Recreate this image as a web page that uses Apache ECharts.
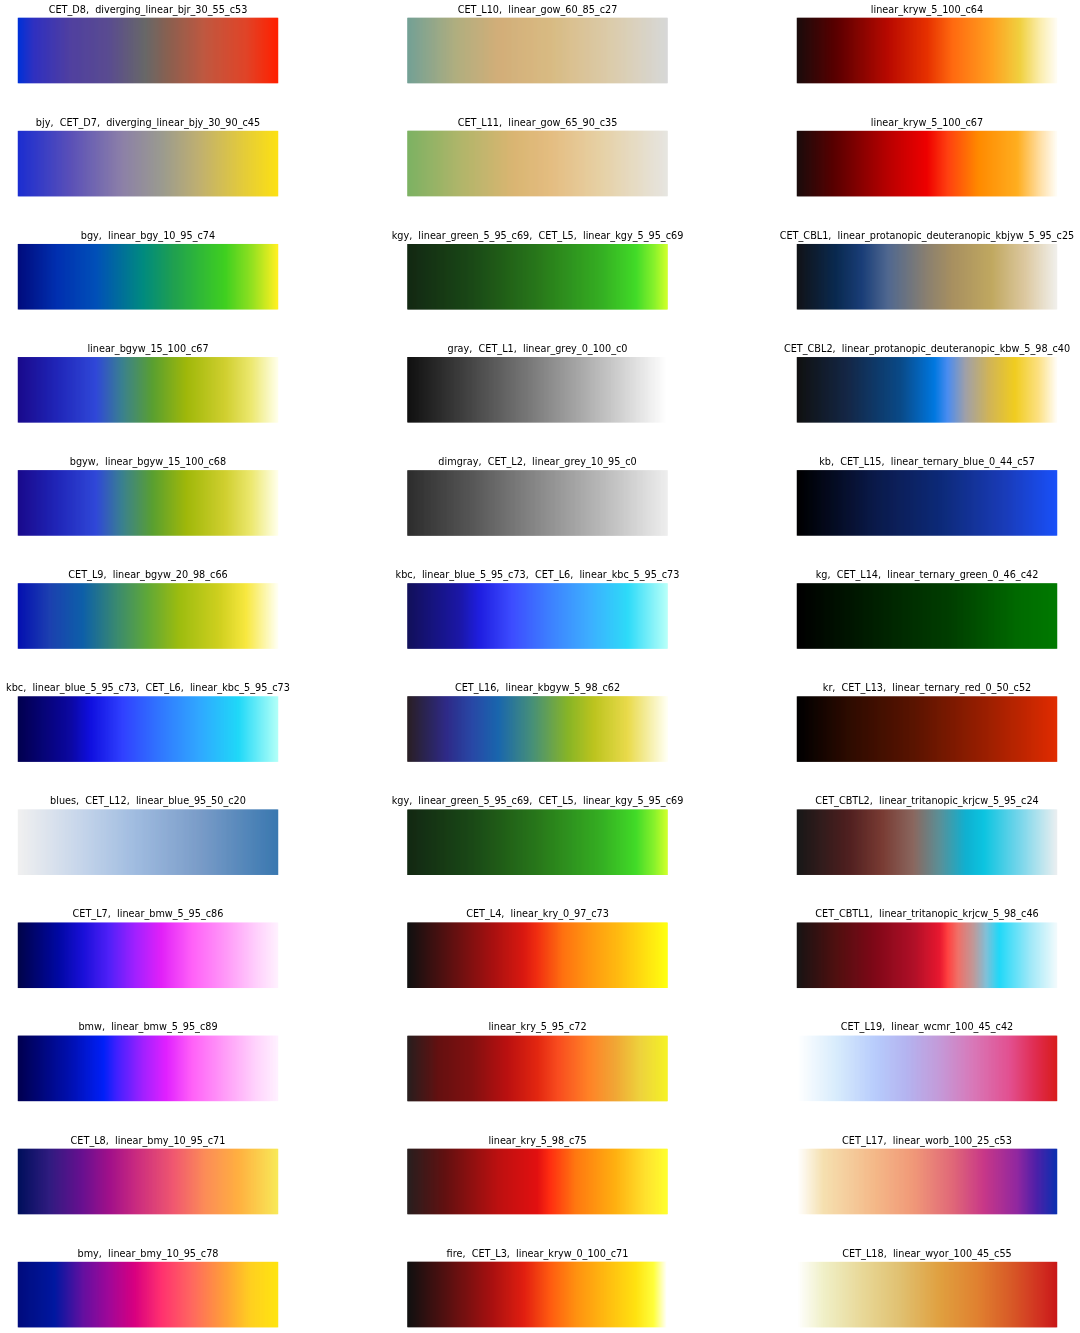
<!DOCTYPE html>
<html>
<head>
<meta charset="utf-8">
<script src="https://cdn.jsdelivr.net/npm/echarts@6/dist/echarts.min.js"></script>
<style>
html,body{margin:0;padding:0;background:#fff;}
#chart{width:1080px;height:1333px;}
</style>
</head>
<body>
<div id="chart"></div>
<script>
// ---- titles (row-major, 3 columns) ----
const titles = [
  "CET_D8,  diverging_linear_bjr_30_55_c53", "CET_L10,  linear_gow_60_85_c27", "linear_kryw_5_100_c64",
  "bjy,  CET_D7,  diverging_linear_bjy_30_90_c45", "CET_L11,  linear_gow_65_90_c35", "linear_kryw_5_100_c67",
  "bgy,  linear_bgy_10_95_c74", "kgy,  linear_green_5_95_c69,  CET_L5,  linear_kgy_5_95_c69", "CET_CBL1,  linear_protanopic_deuteranopic_kbjyw_5_95_c25",
  "linear_bgyw_15_100_c67", "gray,  CET_L1,  linear_grey_0_100_c0", "CET_CBL2,  linear_protanopic_deuteranopic_kbw_5_98_c40",
  "bgyw,  linear_bgyw_15_100_c68", "dimgray,  CET_L2,  linear_grey_10_95_c0", "kb,  CET_L15,  linear_ternary_blue_0_44_c57",
  "CET_L9,  linear_bgyw_20_98_c66", "kbc,  linear_blue_5_95_c73,  CET_L6,  linear_kbc_5_95_c73", "kg,  CET_L14,  linear_ternary_green_0_46_c42",
  "kbc,  linear_blue_5_95_c73,  CET_L6,  linear_kbc_5_95_c73", "CET_L16,  linear_kbgyw_5_98_c62", "kr,  CET_L13,  linear_ternary_red_0_50_c52",
  "blues,  CET_L12,  linear_blue_95_50_c20", "kgy,  linear_green_5_95_c69,  CET_L5,  linear_kgy_5_95_c69", "CET_CBTL2,  linear_tritanopic_krjcw_5_95_c24",
  "CET_L7,  linear_bmw_5_95_c86", "CET_L4,  linear_kry_0_97_c73", "CET_CBTL1,  linear_tritanopic_krjcw_5_98_c46",
  "bmw,  linear_bmw_5_95_c89", "linear_kry_5_95_c72", "CET_L19,  linear_wcmr_100_45_c42",
  "CET_L8,  linear_bmy_10_95_c71", "linear_kry_5_98_c75", "CET_L17,  linear_worb_100_25_c53",
  "bmy,  linear_bmy_10_95_c78", "fire,  CET_L3,  linear_kryw_0_100_c71", "CET_L18,  linear_wyor_100_45_c55"
];

// ---- colour stops: [position, colour] ----
const bjr = [[0,'#0030d8'],[0.06,'#3030c0'],[0.2,'#5040a0'],[0.35,'#5a4c90'],[0.49,'#686868'],[0.58,'#8a6050'],[0.72,'#c05840'],[0.88,'#e04428'],[1,'#ff2000']];
const gow60 = [[0,'#6a9a8e'],[0.18,'#a9a877'],[0.35,'#cfa870'],[0.55,'#d6b67a'],[0.8,'#d8c9a8'],[1,'#d5d5d4']];
const kryw64 = [[0,'#1b0c0c'],[0.15,'#5a0000'],[0.35,'#b80a00'],[0.5,'#e63000'],[0.6,'#ff6a10'],[0.75,'#ffa020'],[0.86,'#f0d040'],[0.94,'#fbeeb0'],[1,'#fffcf2']];
const bjy = [[0,'#1c2ed0'],[0.2,'#5a50b8'],[0.4,'#8c80a8'],[0.55,'#9a9a90'],[0.7,'#c0b070'],[0.85,'#e0c840'],[1,'#fce014']];
const gow65 = [[0,'#74ac58'],[0.2,'#aab060'],[0.4,'#d6b068'],[0.55,'#e2b878'],[0.75,'#e5cea0'],[1,'#e5e3de']];
const kryw67 = [[0,'#1b0c0c'],[0.15,'#5c0000'],[0.35,'#b80000'],[0.5,'#ee0000'],[0.58,'#ff4010'],[0.7,'#ff8a00'],[0.85,'#ffae20'],[0.94,'#ffe0a8'],[1,'#fffcf4']];
const bgy = [[0,'#000c7d'],[0.15,'#0030b0'],[0.3,'#0050b8'],[0.48,'#008a80'],[0.6,'#20a050'],[0.8,'#40d020'],[0.9,'#90e020'],[1,'#fff020']];
const kgy = [[0,'#031a03'],[0.25,'#0b3d07'],[0.5,'#1a6e0b'],[0.75,'#28aa14'],[0.88,'#35d81a'],[0.95,'#7ef01e'],[1,'#c8ff1c']];
const cbl1 = [[0,'#111318'],[0.15,'#0a2a50'],[0.25,'#1a3e78'],[0.35,'#506890'],[0.5,'#8a8070'],[0.6,'#a89060'],[0.75,'#c0a860'],[0.88,'#dcc8a0'],[1,'#f0efea']];
const bgyw67 = [[0,'#1a0a8c'],[0.15,'#2026b8'],[0.3,'#3048d8'],[0.4,'#3a8090'],[0.52,'#5aa030'],[0.65,'#a0b80a'],[0.8,'#d0cf30'],[0.9,'#ece870'],[1,'#ffffe8']];
const grey0 = [[0,'#000000'],[0.25,'#3b3b3b'],[0.5,'#777777'],[0.75,'#b9b9b9'],[1,'#ffffff']];
const cbl2 = [[0,'#111111'],[0.2,'#142848'],[0.4,'#0a4a88'],[0.53,'#0078e0'],[0.58,'#4a8cf0'],[0.65,'#a0a0a8'],[0.74,'#d0b458'],[0.84,'#f0cc20'],[0.93,'#fce080'],[1,'#fffcf4']];
const bgyw68 = [[0,'#1a0a8c'],[0.15,'#2026b8'],[0.3,'#3048d8'],[0.4,'#3a8090'],[0.52,'#5aa030'],[0.65,'#a0b80a'],[0.8,'#d0cf30'],[0.9,'#ece870'],[1,'#ffffe8']];
const grey10 = [[0,'#1f1f1f'],[0.25,'#4c4c4c'],[0.5,'#808080'],[0.75,'#b4b4b4'],[1,'#ececec']];
const kb = [[0,'#000000'],[0.3,'#0b1a4a'],[0.55,'#0d2a78'],[0.8,'#1a3cb8'],[1,'#1a50f8']];
const bgyw66 = [[0,'#0510b0'],[0.12,'#1c40b0'],[0.25,'#0e60a8'],[0.38,'#3a8a70'],[0.5,'#60a838'],[0.62,'#9cbc10'],[0.78,'#d0d020'],[0.88,'#f8e840'],[1,'#fffff0']];
const kbc = [[0,'#02004f'],[0.2,'#0c08a0'],[0.28,'#1010e0'],[0.4,'#3040ff'],[0.55,'#3078ff'],[0.7,'#30a8ff'],[0.85,'#20d8f8'],[1,'#b0fff8']];
const kg = [[0,'#000000'],[0.3,'#002000'],[0.6,'#004000'],[0.85,'#006a00'],[1,'#007a00']];
const kbgyw = [[0,'#1b1016'],[0.15,'#201c80'],[0.25,'#1a3ca0'],[0.35,'#0a5ca8'],[0.48,'#3a8870'],[0.62,'#80b018'],[0.72,'#b8c010'],[0.85,'#e8d840'],[1,'#fffff0']];
const kr = [[0,'#000000'],[0.2,'#2e0c00'],[0.45,'#5a1400'],[0.75,'#a02000'],[1,'#e02c00']];
const blues = [[0,'#f0f0f0'],[0.25,'#c4d4ea'],[0.45,'#a0bce0'],[0.7,'#7a9cc8'],[1,'#3a78b0']];
const cbtl2 = [[0,'#181818'],[0.2,'#502020'],[0.33,'#7a3c34'],[0.45,'#8a6860'],[0.55,'#5a9098'],[0.65,'#10b0d0'],[0.72,'#0cc4e0'],[0.85,'#70d4ea'],[1,'#e8eef0']];
const bmw86 = [[0,'#00044a'],[0.15,'#0008a0'],[0.25,'#1a10d8'],[0.35,'#5020f8'],[0.45,'#a020ff'],[0.55,'#e020f8'],[0.67,'#ff60f8'],[0.8,'#ff98f8'],[0.92,'#ffd0fc'],[1,'#fff0fe']];
const kry0 = [[0,'#000000'],[0.15,'#4a0000'],[0.32,'#9e0000'],[0.45,'#d80a00'],[0.5,'#f02000'],[0.6,'#ff6800'],[0.7,'#ff9000'],[0.82,'#ffb800'],[1,'#ffff00']];
const cbtl1 = [[0,'#181414'],[0.15,'#501010'],[0.3,'#800818'],[0.45,'#b01028'],[0.55,'#e81830'],[0.58,'#ff4040'],[0.62,'#f07068'],[0.68,'#c09898'],[0.73,'#80c0d8'],[0.78,'#20d8f8'],[0.9,'#a0e8f8'],[1,'#f0fafc']];
const bmw89 = [[0,'#000050'],[0.2,'#0010b0'],[0.33,'#0020f8'],[0.38,'#4020ff'],[0.48,'#a020ff'],[0.57,'#e020ff'],[0.67,'#ff60f8'],[0.8,'#ff9ef8'],[0.92,'#ffd4fc'],[1,'#fff0ff']];
const kry5_95 = [[0,'#1a1010'],[0.12,'#5a0000'],[0.25,'#7a0000'],[0.38,'#b40000'],[0.5,'#e01800'],[0.58,'#f84010'],[0.7,'#ff7a18'],[0.8,'#f0a028'],[0.9,'#ecd030'],[1,'#f4f018']];
const wcmr = [[0,'#ffffff'],[0.15,'#d8ecfc'],[0.3,'#b8ccfc'],[0.42,'#b4b4f0'],[0.55,'#c49ad8'],[0.68,'#d878b8'],[0.82,'#e25090'],[0.92,'#e02c50'],[1,'#d81e1e']];
const bmy71 = [[0,'#00105c'],[0.12,'#301c80'],[0.25,'#6a1090'],[0.35,'#a0108a'],[0.45,'#c82a80'],[0.6,'#f05870'],[0.72,'#fc8c58'],[0.85,'#ffb040'],[1,'#f8e858']];
const kry5_98 = [[0,'#1a1010'],[0.15,'#5a0000'],[0.35,'#b80000'],[0.5,'#e00000'],[0.55,'#ff2000'],[0.65,'#ff7000'],[0.8,'#ffaa00'],[0.92,'#ffe020'],[1,'#fffe20']];
const worb = [[0,'#ffffff'],[0.1,'#f5e0b0'],[0.3,'#f4b888'],[0.45,'#f09878'],[0.6,'#e06878'],[0.72,'#c83888'],[0.85,'#9028a0'],[0.92,'#5020a8'],[1,'#0c30b0']];
const bmy78 = [[0,'#000c7d'],[0.14,'#0018a0'],[0.25,'#6410a0'],[0.35,'#a00898'],[0.45,'#d80080'],[0.55,'#ff3070'],[0.67,'#ff6860'],[0.8,'#ffa038'],[0.9,'#ffd020'],[1,'#ffe410']];
const fire = [[0,'#000000'],[0.15,'#4a0000'],[0.32,'#a00000'],[0.45,'#e01000'],[0.55,'#ff5000'],[0.65,'#ff8a00'],[0.75,'#ffb000'],[0.88,'#ffe000'],[0.95,'#ffff30'],[1,'#ffffff']];
const wyor = [[0,'#ffffff'],[0.1,'#f0f0c8'],[0.25,'#e8d898'],[0.4,'#e0c070'],[0.55,'#e0a040'],[0.7,'#e08030'],[0.82,'#d85c28'],[0.95,'#d02c20'],[1,'#c81818']];

const colormaps = [
  bjr, gow60, kryw64,
  bjy, gow65, kryw67,
  bgy, kgy, cbl1,
  bgyw67, grey0, cbl2,
  bgyw68, grey10, kb,
  bgyw66, kbc, kg,
  kbc, kbgyw, kr,
  blues, kgy, cbtl2,
  bmw86, kry0, cbtl1,
  bmw89, kry5_95, wcmr,
  bmy71, kry5_98, worb,
  bmy78, fire, wyor
];

const NCELLS = 260;
const cellIndex = Array.from({length: NCELLS}, (_, i) => i);

function hexRgb(h){ return [parseInt(h.substr(1,2),16), parseInt(h.substr(3,2),16), parseInt(h.substr(5,2),16)]; }
function sample(stops, t){
  for (let k = 1; k < stops.length; k++){
    if (t <= stops[k][0]){
      const a = stops[k-1], b = stops[k];
      const f = (t - a[0]) / ((b[0] - a[0]) || 1);
      const ca = hexRgb(a[1]), cb = hexRgb(b[1]);
      const c = ca.map((v, j) => Math.round(v + (cb[j] - v) * f));
      return 'rgb(' + c.join(',') + ')';
    }
  }
  return stops[stops.length-1][1];
}

const chart = echarts.init(document.getElementById('chart'), null, {renderer: 'canvas'});
const grids = [], xAxes = [], yAxes = [], series = [], titleOpts = [];
const COL_LEFT = [18, 407.5, 797], BAR_W = 260, BAR_H = 65, ROW_TOP0 = 18, ROW_PITCH = 113.1;

colormaps.forEach((stops, k) => {
  const row = Math.floor(k / 3), col = k % 3;
  const top = ROW_TOP0 + row * ROW_PITCH;
  grids.push({left: COL_LEFT[col], top: top, width: BAR_W, height: BAR_H, containLabel: false});
  xAxes.push({type: 'category', gridIndex: k, data: cellIndex, show: false, boundaryGap: true});
  yAxes.push({type: 'category', gridIndex: k, data: ['0'], show: false});
  series.push({
    type: 'heatmap', xAxisIndex: k, yAxisIndex: k, silent: true, progressive: 0,
    emphasis: {disabled: true},
    data: cellIndex.map(i => ({value: [i, 0, i], itemStyle: {color: sample(stops, i / (NCELLS - 1))}}))
  });
  titleOpts.push({
    text: titles[k], left: COL_LEFT[col] + BAR_W / 2, top: top - 13, textAlign: 'center',
    padding: 0,
    textStyle: {fontSize: 9.7, fontWeight: 'normal', color: '#000', fontFamily: 'DejaVu Sans'}
  });
});

chart.setOption({
  animation: false,
  backgroundColor: '#fff',
  title: titleOpts,
  grid: grids,
  xAxis: xAxes,
  yAxis: yAxes,
  series: series
});
</script>
</body>
</html>
